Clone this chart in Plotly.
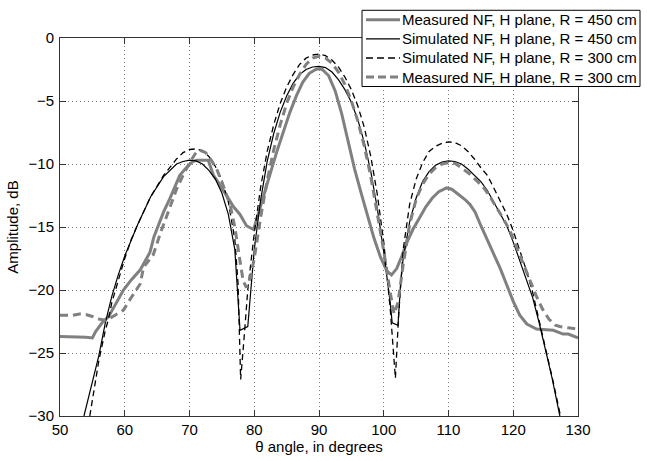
import plotly.graph_objects as go

# ---- data ----
sim450_theta = [53.7, 55, 56, 57, 58, 59, 60, 62, 64, 66, 68, 69, 70, 71, 72, 73, 74, 75, 76, 77, 77.8, 79.0, 79.5, 80, 81, 82, 83, 84, 85, 86, 87, 88, 89, 90, 91, 92, 93, 94, 95, 96, 97, 98, 99, 100, 101, 101.3, 102.2, 102.6, 103, 104, 105, 106, 107, 108, 109, 110, 111, 112, 113, 114, 115, 116, 117, 118, 119, 120, 121, 122, 123, 124, 125, 126, 127.2]
sim450_db = [-30, -27.2, -25.2, -22.6, -20.5, -18.8, -17.3, -14.8, -12.6, -11.0, -10.0, -9.8, -9.7, -9.75, -10.0, -10.5, -11.2, -12.3, -14.0, -16.8, -23.2, -22.9, -19.5, -16.8, -12.8, -9.8, -7.6, -5.9, -4.6, -3.6, -2.9, -2.5, -2.3, -2.25, -2.35, -2.7, -3.3, -4.1, -5.1, -6.5, -8.3, -10.6, -13.5, -17.0, -21.0, -22.6, -22.8, -19.5, -17.5, -14.6, -12.7, -11.4, -10.6, -10.1, -9.85, -9.75, -9.8, -10.0, -10.4, -10.9, -11.4, -12.1, -13.0, -13.9, -14.9, -16.2, -17.7, -19.2, -20.6, -22.6, -24.7, -27.0, -30]

sim300_theta = [54.6, 55, 56, 57, 57.5, 58, 59, 60, 61, 62, 64, 66, 68, 69, 70, 71, 72, 73, 74, 75, 76, 77, 77.5, 77.9, 78.4, 79, 80, 81, 82, 83, 84, 85, 86, 87, 88, 89, 90, 91, 92, 93, 94, 95, 96, 97, 98, 99, 100, 101, 101.8, 102.3, 103, 104, 105, 106, 107, 108, 109, 110, 111, 112, 113, 114, 115, 116, 117, 118, 119, 120, 121, 122, 123, 124, 125, 126, 127.3]
sim300_db = [-30, -28.8, -25.6, -23.2, -22.3, -21.0, -19.2, -17.5, -16.0, -14.8, -12.6, -10.9, -9.6, -9.1, -8.85, -8.8, -8.95, -9.4, -10.2, -11.3, -13.0, -16.0, -19.5, -27.1, -24.0, -20.0, -15.5, -11.8, -9.0, -6.9, -5.2, -3.9, -2.9, -2.1, -1.6, -1.35, -1.28, -1.4, -1.75, -2.3, -3.1, -4.1, -5.4, -7.1, -9.4, -12.4, -16.2, -21.5, -27.0, -22.0, -16.8, -13.2, -11.2, -9.9, -9.0, -8.6, -8.35, -8.25, -8.3, -8.55, -9.0, -9.6, -10.3, -10.9, -11.9, -12.9, -14.0, -15.3, -16.8, -18.4, -20.2, -22.4, -24.5, -26.9, -30]

meas450_theta = [50, 52, 54, 55, 55.5, 56.5, 57.5, 58.5, 59.8, 61, 62.4, 63.9, 64.5, 66, 67, 68.5, 69.5, 70.5, 71.1, 72.9, 73.7, 74.5, 75.7, 76.8, 77.8, 78.8, 79.9, 80.5, 81.5, 82.5, 83.5, 84.5, 85.5, 86.5, 87.5, 88.5, 89.5, 90, 90.5, 91.5, 92.5, 93.5, 94.5, 95.5, 96.5, 97.5, 98.5, 99.5, 100.5, 101.2, 102, 102.8, 103.5, 104.5, 105.5, 106.5, 107.5, 108.5, 109.7, 110.5, 111.5, 112.5, 113.3, 114.1, 115, 116, 117, 118, 119, 120, 121, 122.1, 123.6, 125, 126.2, 127.7, 128.5, 130]
meas450_db = [-23.7, -23.7, -23.75, -23.8, -23.3, -22.6, -22.1, -21.2, -20.0, -19.2, -18.4, -17.0, -15.8, -13.8, -12.7, -10.9, -10.3, -9.8, -9.7, -9.7, -10.9, -11.5, -12.5, -13.4, -14.0, -14.9, -15.2, -14.2, -12.4, -10.7, -9.0, -7.4, -5.9, -4.6, -3.5, -2.8, -2.5, -2.45, -2.5, -3.0, -4.2, -6.0, -8.2, -10.4, -12.3, -14.2, -15.9, -17.4, -18.5, -18.8, -18.3, -17.3, -16.3, -15.2, -14.3, -13.4, -12.7, -12.2, -11.9, -12.0, -12.4, -12.8, -13.2, -13.8, -14.9, -16.0, -17.2, -18.3, -19.6, -20.9, -22.0, -22.7, -23.1, -23.15, -23.2, -23.5, -23.5, -23.8]

meas300_theta = [50, 52, 53, 54, 55, 56, 57, 57.5, 58.5, 59.8, 61, 62.4, 62.9, 64.4, 65.5, 67, 68, 69, 70, 71, 71.6, 72.5, 73.5, 74.2, 75.2, 76.3, 77, 77.8, 78.3, 78.8, 79.4, 80, 81, 82, 83, 84, 85, 86, 87, 88, 89, 90, 91, 92, 93, 94, 95, 96, 97, 98, 99, 100, 101, 101.6, 102.2, 103, 104, 105, 106, 107, 108, 109, 110, 111, 112, 113.3, 114.3, 115.3, 116.3, 117.3, 118.3, 119.5, 120.5, 121.5, 122.6, 123.5, 124.5, 125.5, 126.5, 127.2, 128.5, 130]
meas300_db = [-22.0, -22.0, -21.9, -21.95, -22.1, -22.3, -22.4, -22.3, -22.0, -21.6, -20.6, -19.5, -18.2, -17.2, -15.5, -13.5, -12.0, -10.9, -9.9, -9.1, -8.9, -9.1, -9.8, -10.4, -11.7, -13.3, -15.0, -17.7, -19.3, -19.8, -19.0, -17.5, -14.2, -11.3, -8.9, -6.9, -5.2, -3.9, -2.9, -2.1, -1.6, -1.45, -1.6, -2.0, -2.7, -3.7, -5.0, -6.6, -8.6, -11.0, -13.8, -16.9, -20.2, -21.9, -21.0, -18.0, -14.8, -12.8, -11.6, -10.8, -10.3, -10.0, -9.9, -9.95, -10.3, -10.8, -11.3, -11.8, -12.5, -13.3, -14.2, -15.3, -16.6, -17.9, -19.3, -20.4, -21.5, -22.3, -22.8, -22.9, -23.0, -23.1]

labels = ["Measured NF, H plane, R = 450 cm",
          "Simulated NF, H plane, R = 450 cm",
          "Simulated NF, H plane, R = 300 cm",
          "Measured NF, H plane, R = 300 cm"]

x_ticks = [50, 60, 70, 80, 90, 100, 110, 120, 130]
y_ticks = [0, -5, -10, -15, -20, -25, -30]

FONT = "Liberation Sans, Arial, sans-serif"
GRAY = "#808080"

styles = [dict(color=GRAY, width=3),
          dict(color="black", width=1.2),
          dict(color="black", width=1.3, dash="6px,4px"),
          dict(color=GRAY, width=3, dash="8px,5px")]
series = [(meas450_theta, meas450_db), (sim450_theta, sim450_db),
          (sim300_theta, sim300_db), (meas300_theta, meas300_db)]

fig = go.Figure()
for (xs, ys), st, lab in zip(series, styles, labels):
    fig.add_trace(go.Scatter(x=xs, y=ys, mode="lines", name=lab, line=st, showlegend=False))

axis_common = dict(
    showline=True, linecolor="#333333", linewidth=1, mirror="ticks",
    ticks="inside", ticklen=6, tickcolor="#333333",
    showgrid=True, gridcolor="#777777", griddash="1px,3px", gridwidth=1,
    zeroline=False, tickfont=dict(family=FONT, size=15, color="black"),
)

W, H = 647, 461
L, R, T, B = 60, 69, 38, 41
pw, ph = W - L - R, H - T - B

def px(xp):
    return (xp - L) / pw

def py(yp):
    return (H - B - yp) / ph

# manual legend (box, line samples, real text)
shapes = [dict(type="rect", xref="paper", yref="paper",
               x0=px(362), x1=px(640), y0=py(87), y1=py(10),
               fillcolor="white", line=dict(color="black", width=1), layer="above")]
annotations = []
entry_y = [19.5, 38.8, 58.2, 77.5]
leg_dash = [None, None, "7px,4px", "8px,4px"]
for lab, st, ey, dsh in zip(labels, styles, entry_y, leg_dash):
    ln = dict(color=st["color"], width=st["width"])
    if dsh:
        ln["dash"] = dsh
    shapes.append(dict(type="line", xref="paper", yref="paper",
                       x0=px(366), x1=px(400), y0=py(ey), y1=py(ey),
                       line=ln, layer="above"))
    annotations.append(dict(xref="paper", yref="paper", x=px(400), y=py(ey),
                            xanchor="left", yanchor="middle", showarrow=False,
                            text=lab, font=dict(family=FONT, size=15, color="black")))

fig.update_layout(
    width=W, height=H,
    margin=dict(l=L, r=R, t=T, b=B),
    paper_bgcolor="white", plot_bgcolor="white",
    font=dict(family=FONT, size=15, color="black"),
    xaxis=dict(range=[50, 130], tickvals=x_ticks,
               title=dict(text="θ angle, in degrees", font=dict(family=FONT, size=15), standoff=0),
               **axis_common),
    yaxis=dict(range=[-30, 0], tickvals=y_ticks, ticklabelstandoff=2,
               title=dict(text="Amplitude, dB", font=dict(family=FONT, size=15), standoff=6),
               **axis_common),
    shapes=shapes, annotations=annotations,
    showlegend=False,
)

fig.write_html("out.html")
